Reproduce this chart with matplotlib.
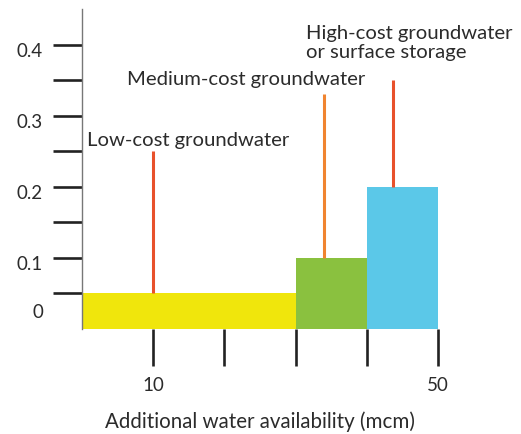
import matplotlib
matplotlib.use("Agg")
import matplotlib.pyplot as plt
import matplotlib.transforms as mtransforms

plt.rcParams['font.family'] = ['Lato', 'DejaVu Sans']

# Supply blocks (x in mcm, y = cost)
bar_left = [0, 30, 40]
bar_width = [30, 10, 10]
bar_height = [0.05, 0.1, 0.2]
bar_colors = ['#f0e60c', '#8ac13f', '#5bc8e8']

# Vertical cost markers
marker_x = [10, 34, 43.7]
marker_top = [0.25, 0.33, 0.35]
marker_colors = ['#e8512b', '#f08430', '#e8512b']

# Labels for the supply options
option_labels = ['Low-cost groundwater', 'Medium-cost groundwater',
                 'High-cost groundwater\nor surface storage']
label_x = [0.7, 6.3, 31.4]
label_y = [0.266, 0.352, 0.4035]

# Axis ticks
x_ticks = [10, 20, 30, 40, 50]
x_ticklabels = ['10', '', '', '', '50']
y_ticks = [0.05, 0.1, 0.15, 0.2, 0.25, 0.3, 0.35, 0.4]
y_label_vals = [0.025, 0.1, 0.2, 0.3, 0.4]
y_label_text = ['0', '0.1', '0.2', '0.3', '0.4']

txt = '#2b2b2b'

fig = plt.figure(figsize=(5.21, 4.35), dpi=100)
ax = fig.add_axes([82 / 521, 105 / 435, 356 / 521, 320 / 435])

ax.bar(bar_left, bar_height, width=bar_width, align='edge', color=bar_colors, linewidth=0)
ax.vlines(marker_x, bar_height, marker_top, colors=marker_colors, linewidth=2.2)

for t, x, y in zip(option_labels, label_x, label_y):
    ax.text(x, y, t, ha='left', va='center', fontsize=14.6, color=txt, linespacing=1.15)

ax.set_xlim(0, 50)
ax.set_ylim(0, 0.45)

for s in ['top', 'right', 'bottom']:
    ax.spines[s].set_visible(False)
ax.spines['left'].set_color('#777777')
ax.spines['left'].set_linewidth(1.0)

ax.set_xticks(x_ticks)
ax.set_xticklabels(x_ticklabels, fontsize=13.5, color=txt)
ax.tick_params(axis='x', direction='out', length=26.5, width=1.9, color='#222222', pad=7)

ax.set_yticks(y_ticks)
ax.set_yticklabels([])
ax.tick_params(axis='y', direction='out', length=21, width=1.9, color='#222222')

# y labels sit a little below their ticks
trans = mtransforms.blended_transform_factory(ax.transAxes, ax.transData)
off = mtransforms.ScaledTranslation(0, -6 / 100, fig.dpi_scale_trans)
for v, t in zip(y_label_vals, y_label_text):
    tr = trans if t == '0' else trans + off
    ax.text(-39 / 356, v, t, ha='right', va='center', fontsize=13.5, color=txt, transform=tr)

ax.set_xlabel('Additional water availability (mcm)', fontsize=14.8, color=txt, labelpad=13)

fig.savefig('out.png', dpi=100)
